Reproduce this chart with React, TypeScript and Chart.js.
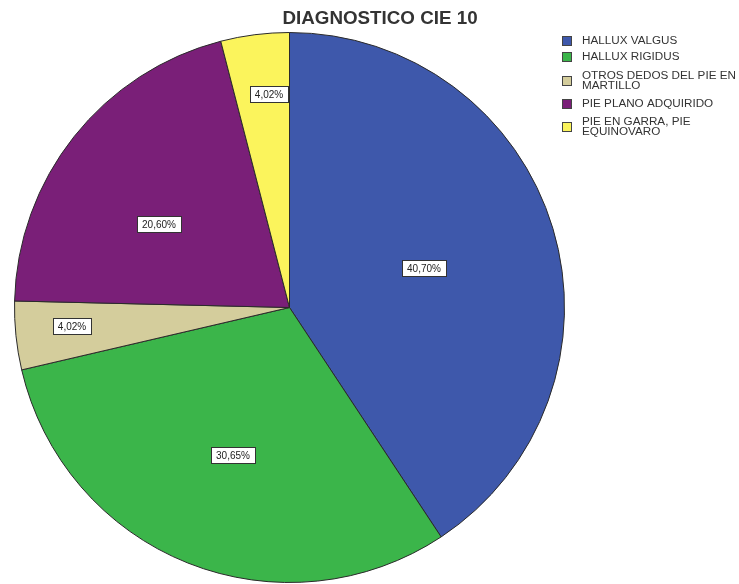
import React, { useEffect, useRef } from "react";
import { Chart, registerables } from "chart.js";

Chart.register(...registerables);

const TITLE = "DIAGNOSTICO CIE 10";
const CATEGORIES = [
  ["HALLUX VALGUS"],
  ["HALLUX RIGIDUS"],
  ["OTROS DEDOS DEL PIE EN", "MARTILLO"],
  ["PIE PLANO ADQUIRIDO"],
  ["PIE EN GARRA, PIE", "EQUINOVARO"],
];
const PERCENTS = [40.7, 30.65, 4.02, 20.6, 4.02];
const VALUE_LABELS = ["40,70%", "30,65%", "4,02%", "20,60%", "4,02%"];

const COLORS = ["#3e58ab", "#3bb54a", "#d4cd9c", "#7a1f78", "#fbf45c"];
// label placement: angle offset from slice middle (deg), fraction of radius
const LABEL_ANGLE_OFFSET = [0.4, -0.6, 0.9, -5.9, 1.7];
const LABEL_RADIUS_FRAC = [0.51, 0.575, 0.795, 0.565, 0.78];
const LEGEND_TOPS = [36, 52, 71, 99, 117];

const overlayPlugin = {
  id: "overlay",
  afterDraw(chart: any) {
    const ctx = chart.ctx as CanvasRenderingContext2D;
    ctx.save();
    // title
    ctx.fillStyle = "#333333";
    ctx.font = "bold 18.8px 'Liberation Sans', Arial, sans-serif";
    ctx.textAlign = "center";
    ctx.textBaseline = "middle";
    ctx.fillText(TITLE, 380, 19);

    // value labels
    const meta = chart.getDatasetMeta(0);
    ctx.font = "10px 'Liberation Sans', Arial, sans-serif";
    meta.data.forEach((arc: any, i: number) => {
      const p = arc.getProps(["x", "y", "startAngle", "endAngle", "outerRadius"], true);
      const mid = (p.startAngle + p.endAngle) / 2 + (LABEL_ANGLE_OFFSET[i] * Math.PI) / 180;
      const r = p.outerRadius * LABEL_RADIUS_FRAC[i];
      const cx = p.x + Math.cos(mid) * r;
      const cy = p.y + Math.sin(mid) * r;
      const text = VALUE_LABELS[i];
      const w = Math.round(ctx.measureText(text).width + 10);
      const h = 16;
      const bx = Math.round(cx - w / 2) + 0.5;
      const by = Math.round(cy - h / 2) + 0.5;
      ctx.fillStyle = "#ffffff";
      ctx.fillRect(bx, by, w, h);
      ctx.strokeStyle = "#333333";
      ctx.lineWidth = 1;
      ctx.strokeRect(bx, by, w, h);
      ctx.fillStyle = "#222222";
      ctx.textAlign = "center";
      ctx.textBaseline = "middle";
      ctx.fillText(text, Math.round(cx), Math.round(cy) + 1);
    });

    // legend
    ctx.font = "11.7px 'Liberation Sans', Arial, sans-serif";
    ctx.textAlign = "left";
    ctx.textBaseline = "middle";
    CATEGORIES.forEach((lines, i) => {
      const top = LEGEND_TOPS[i];
      const sc = top + (lines.length * 10) / 2;
      ctx.fillStyle = COLORS[i];
      ctx.fillRect(562, sc - 5, 10, 10);
      ctx.strokeStyle = "#444444";
      ctx.lineWidth = 1;
      ctx.strokeRect(562.5, sc - 4.5, 9, 9);
      ctx.fillStyle = "#333333";
      lines.forEach((ln, k) => {
        ctx.fillText(ln, 582, top + 5 + k * 10);
      });
    });
    ctx.restore();
  },
};

export default function App() {
  const ref = useRef<HTMLCanvasElement | null>(null);
  useEffect(() => {
    if (!ref.current) return;
    const chart = new Chart(ref.current, {
      type: "pie",
      data: {
        labels: CATEGORIES.map((c) => c.join(" ")),
        datasets: [
          {
            data: PERCENTS,
            backgroundColor: COLORS,
            borderColor: "#2a2a2a",
            borderWidth: 1,
          },
        ],
      },
      options: {
        responsive: false,
        animation: false,
        devicePixelRatio: 1,
        layout: { padding: { left: 14, top: 32, right: 174, bottom: 1 } },
        plugins: {
          legend: { display: false },
          title: { display: false },
          tooltip: { enabled: false },
        },
      },
      plugins: [overlayPlugin],
    });
    return () => chart.destroy();
  }, []);
  return (
    <div style={{ position: "fixed", left: 0, top: 0, width: 739, height: 584, background: "#ffffff" }}>
      <canvas ref={ref} width={739} height={584} />
    </div>
  );
}
